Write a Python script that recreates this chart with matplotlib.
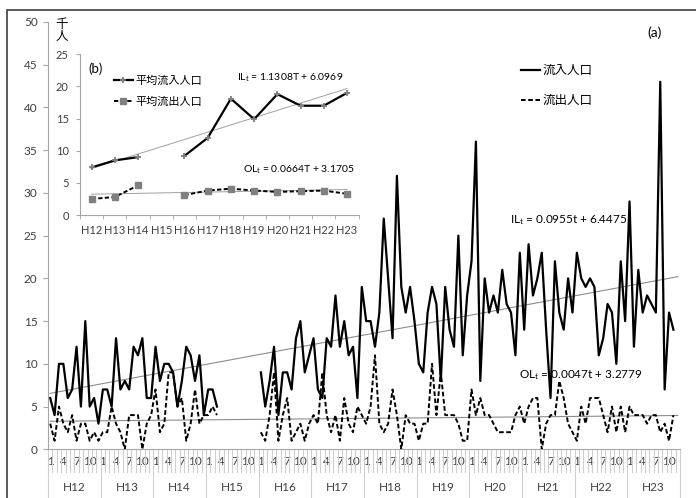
import numpy as np
import matplotlib
matplotlib.use('Agg')
import matplotlib.pyplot as plt
from matplotlib.lines import Line2D
from matplotlib.patches import Rectangle

plt.rcParams['font.family'] = ['Lato', 'Noto Sans CJK JP', 'DejaVu Sans']
plt.rcParams['mathtext.fontset'] = 'custom'
plt.rcParams['mathtext.rm'] = 'Lato'
plt.rcParams['mathtext.default'] = 'regular'

nan = np.nan
years = ['H12', 'H13', 'H14', 'H15', 'H16', 'H17', 'H18', 'H19', 'H20', 'H21', 'H22', 'H23']
month_labels = ['1', '4', '7', '10']

# 月別 流入人口 (千人), H12.1 - H23.12
inflow = [6, 4, 10, 10, 6, 7, 12, 5, 15, 5, 6, 3,
          7, 7, 5, 13, 7, 8, 7, 12, 11, 13, 6, 6,
          12, 8, 10, 10, 9, 5, 8, 12, 11, 8, 11, 4,
          7, 7, 5, nan, nan, nan, nan, nan, nan, nan, nan, nan,
          9, 5, 8, 12, 4, 9, 9, 7, 13, 15, 9, 11,
          13, 7, 6, 13, 12, 18, 12, 15, 11, 12, 6, 19,
          15, 15, 12, 16, 27, 20, 13, 32, 19, 16, 19, 15,
          10, 9, 16, 19, 17, 8, 19, 14, 12, 25, 11, 18,
          22, 36, 8, 20, 16, 18, 16, 21, 17, 16, 11, 23,
          14, 24, 18, 20, 23, 14, 6, 22, 16, 14, 20, 16,
          23, 20, 19, 20, 19, 11, 13, 17, 16, 10, 22, 15,
          29, 12, 21, 16, 18, 17, 16, 43, 7, 16, 14, nan]

# 月別 流出人口 (千人)
outflow = [3, 1, 5, 3, 2, 4, 1, 3, 3, 1, 2, 1,
           2, 2, 5, 3, 2, 0, 4, 4, 4, 0, 3, 4,
           7, 2, 3, 9, 9, 5, 6, 1, 3, 7, 3, 4,
           4, 5, 4, nan, nan, nan, nan, nan, nan, nan, nan, nan,
           2, 1, 4, 9, 1, 4, 6, 1, 2, 3, 1, 3,
           4, 3, 9, 4, 2, 4, 1, 6, 3, 2, 5, 4,
           3, 5, 11, 3, 2, 3, 7, 4, 0, 4, 3, 3,
           1, 3, 3, 10, 4, 9, 4, 4, 4, 3, 1, 1,
           7, 4, 6, 4, 4, 3, 2, 2, 2, 2, 4, 5,
           3, 5, 6, 6, 0, 3, 4, 4, 8, 6, 3, 2,
           1, 5, 3, 6, 6, 6, 4, 2, 5, 2, 5, 2,
           5, 4, 4, 4, 3, 4, 4, 2, 3, 1, 4, nan]

# 年平均
avg_in = [7.4, 8.5, 9.0, nan, 9.2, 12.0, 18.1, 14.9, 18.8, 17.0, 17.0, 19.0]
avg_out = [2.5, 2.8, 4.6, nan, 3.1, 3.8, 4.1, 3.8, 3.6, 3.7, 3.8, 3.3]

# 近似直線の係数
il_a, il_b = 0.0955, 6.4475
ol_a, ol_b = 0.0047, 3.2779
IL_a, IL_b = 1.1308, 6.0969
OL_a, OL_b = 0.0664, 3.1705

axis_gray = '#a6a6a6'
sep_gray = '#cfcfcf'
text_col = '#404040'
trend_col = '#8c8c8c'
W, H = 696, 498

fig = plt.figure(figsize=(W / 100, H / 100), dpi=100)

def fx(px):
    return px / W

def fy(py):
    return 1 - py / H

# ---- (a) 月別 ----
ax = fig.add_axes([fx(48), fy(449.3), 632 / W, 427.3 / H])
n = len(years) * 12
x = np.arange(n)
t = np.arange(1, n + 1)
ax.plot(x, il_a * t + il_b, color=trend_col, lw=0.8)
ax.plot(x, ol_a * t + ol_b, color=trend_col, lw=0.8)
ax.plot(x, inflow, color='black', lw=1.6)
ax.plot(x, outflow, color='black', lw=1.4, ls=(0, (2.4, 1.3)))
ax.set_xlim(-0.5, n - 0.5)
ax.set_ylim(0, 50)
ax.set_yticks(range(0, 51, 5))
for s in ['top', 'right']:
    ax.spines[s].set_visible(False)
ax.spines['left'].set_color(axis_gray)
ax.spines['bottom'].set_color(axis_gray)
ax.tick_params(axis='y', colors=axis_gray, labelcolor=text_col, labelsize=8.5, length=3.5, pad=4)

tick_pos = [i for i in x if (i % 12) % 3 == 0]
ax.set_xticks(tick_pos)
ax.set_xticklabels([str(i % 12 + 1) for i in tick_pos])
ax.tick_params(axis='x', length=0, pad=5, labelsize=8.5, labelcolor=text_col)

trans = ax.get_xaxis_transform()
for k in range(n + 1):
    low = -0.112 if k % 12 == 0 else -0.053
    ax.plot([k - 0.5, k - 0.5], [0, low], transform=trans, color=sep_gray, lw=0.8, clip_on=False)
for j, yr in enumerate(years):
    ax.text(j * 12 + 5.5, -0.09, yr, transform=trans, ha='center', va='center',
            fontsize=8.5, color=text_col)

ax.legend(handles=[Line2D([], [], color='black', lw=1.6),
                   Line2D([], [], color='black', lw=1.4, ls=(0, (2.4, 1.3)))],
          labels=['流入人口', '流出人口'], frameon=False, loc='upper left',
          bbox_to_anchor=(fx(521), fy(64)), bbox_transform=fig.transFigure,
          fontsize=9, handlelength=1.5, handletextpad=0.25, labelspacing=1.45,
          borderpad=0, borderaxespad=0)

fig.text(fx(655), fy(33), '(a)', ha='center', va='center', fontsize=10, color='black')
fig.text(fx(62), fy(30), '千\n人', ha='center', va='center', fontsize=9, linespacing=1.05)
fig.text(fx(510), fy(220), 'IL$_t$ = 0.0955t + 6.4475', ha='left', va='center', fontsize=8.5)
fig.text(fx(519), fy(375), 'OL$_t$ = 0.0047t + 3.2779', ha='left', va='center', fontsize=8.5)

# ---- (b) 年平均 ----
ax2 = fig.add_axes([fx(80), fy(215), 278.6 / W, 160.7 / H])
ax2.set_facecolor('white')
T = np.arange(1, len(years) + 1)
xp = np.arange(len(years))
ax2.plot(xp, IL_a * T + IL_b, color='#a0a0a0', lw=0.7)
ax2.plot(xp, OL_a * T + OL_b, color='#a0a0a0', lw=0.7)
ax2.plot(xp, avg_in, color='black', lw=1.6, marker='+', ms=5, mec='#808080', mew=1.3)
ax2.plot(xp, avg_out, color='black', lw=1.4, ls=(0, (2.2, 1.2)), marker='s', ms=4.5,
         mfc='#808080', mec='#808080')
ax2.set_xlim(-0.5, len(years) - 0.5)
ax2.set_ylim(0, 25)
ax2.set_yticks(range(0, 26, 5))
ax2.set_xticks(xp)
ax2.set_xticklabels(years)
ax2.set_xticks(np.arange(len(years) + 1) - 0.5, minor=True)
for s in ['top', 'right']:
    ax2.spines[s].set_visible(False)
ax2.spines['left'].set_color(axis_gray)
ax2.spines['bottom'].set_color(axis_gray)
ax2.tick_params(axis='y', colors=axis_gray, labelcolor=text_col, labelsize=8, length=3, pad=5)
ax2.tick_params(axis='x', which='major', length=0, pad=7, labelsize=8, labelcolor=text_col)
ax2.tick_params(axis='x', which='minor', length=3, color=axis_gray)

ax2.legend(handles=[Line2D([], [], color='black', lw=1.6, marker='+', ms=5, mec='#808080', mew=1.3),
                    Line2D([], [], color='black', lw=1.4, ls=(0, (2.2, 1.2)), marker='s', ms=4.5,
                           mfc='#808080', mec='#808080')],
           labels=['平均流入人口', '平均流出人口'], frameon=False, loc='upper left',
           bbox_to_anchor=(fx(114), fy(75)), bbox_transform=fig.transFigure,
           fontsize=8, handlelength=1.7, handletextpad=0.2, labelspacing=0.85,
           borderpad=0, borderaxespad=0)

fig.text(fx(88), fy(69), '(b)', ha='left', va='center', fontsize=9.5)
fig.text(fx(237), fy(78), 'IL$_t$ = 1.1308T + 6.0969', ha='left', va='center', fontsize=7.5)
fig.text(fx(243), fy(170), 'OL$_t$ = 0.0664T + 3.1705', ha='left', va='center', fontsize=7.5)

fig.add_artist(Rectangle((fx(7), -0.01), 1.0, fy(10) + 0.01, transform=fig.transFigure,
                         fill=False, ec='#404040', lw=1.2))

fig.savefig('out.png', dpi=100)
